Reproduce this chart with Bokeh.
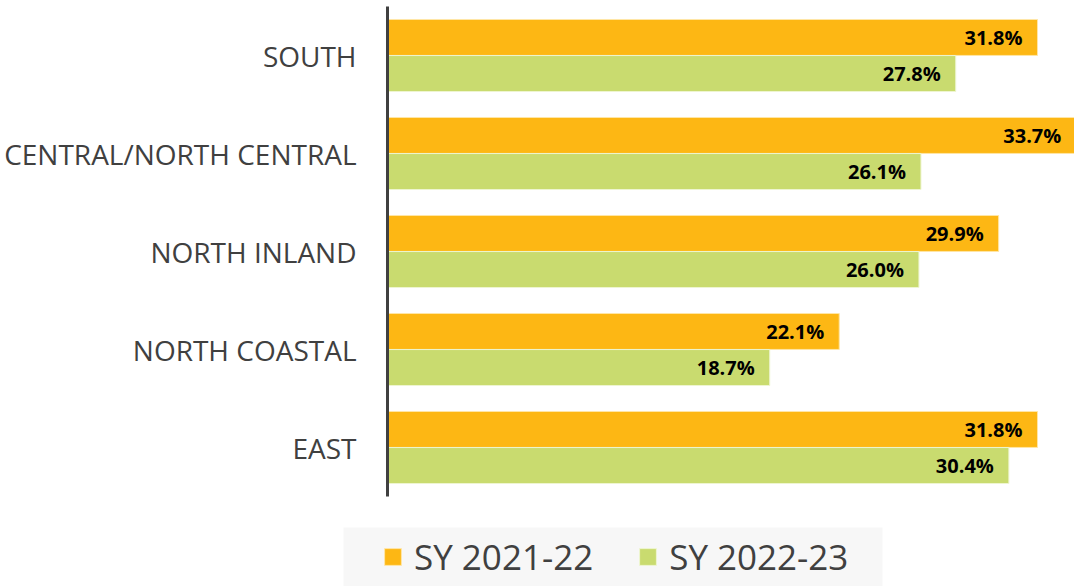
from bokeh.plotting import figure
from bokeh.models import ColumnDataSource, Legend, LegendItem, BoxAnnotation, Range1d
from bokeh.core.properties import value
from bokeh.embed import file_html
from bokeh.resources import INLINE

categories = ["SOUTH", "CENTRAL/NORTH CENTRAL", "NORTH INLAND", "NORTH COASTAL", "EAST"]
series_names = ["SY 2021-22", "SY 2022-23"]
sy_2021_22 = [31.8, 33.7, 29.9, 22.1, 31.8]
sy_2022_23 = [27.8, 26.1, 26.0, 18.7, 30.4]

colors = ["#FDB714", "#C9DB6F"]
TEXT = "#404040"

idx = list(range(len(categories)))
off = 0.184
h = 0.367

src = ColumnDataSource(dict(
    cat=categories,
    pos=idx,
    ya=[i - off for i in idx],
    yb=[i + off for i in idx],
    a=sy_2021_22,
    b=sy_2022_23,
    a_lbl=[f"{v:.1f}%" for v in sy_2021_22],
    b_lbl=[f"{v:.1f}%" for v in sy_2022_23],
    zero=[0] * len(categories),
))

px_per_unit = 20.44   # horizontal scale
row_px = 98.0         # pixels per category row
W, H = 1074, 586
x0_px = 387
row0_px = 55

p = figure(width=W, height=H, output_backend="svg", toolbar_location=None,
           x_range=Range1d(-x0_px / px_per_unit, (W - x0_px) / px_per_unit),
           y_range=Range1d((H - row0_px) / row_px, -row0_px / row_px),
           min_border=0, min_border_left=0, min_border_right=0, min_border_top=0, min_border_bottom=0)
p.xaxis.visible = False
p.yaxis.visible = False
p.grid.visible = False
p.outline_line_color = None

r1 = p.hbar(y="ya", right="a", left="zero", height=h, source=src,
            fill_color=colors[0], line_color="#FFE6A6", line_width=1)
r2 = p.hbar(y="yb", right="b", left="zero", height=h, source=src,
            fill_color=colors[1], line_color="#EEF5D0", line_width=1)

# axis line
p.segment(x0=0, y0=-0.5, x1=0, y1=len(categories) - 0.5, line_color=TEXT, line_width=3)

# category labels
p.text(x="zero", y="pos", text="cat", source=src, text_align="right", text_baseline="middle",
       x_offset=-31, text_font=value("Open Sans"), text_font_size="28px", text_color=TEXT)

# value labels
p.text(x="a", y="ya", text="a_lbl", source=src,
       text_align="right", text_baseline="middle", x_offset=-15,
       text_font=value("Open Sans"), text_font_size="20px", text_font_style="bold", text_color="#000000")
p.text(x="b", y="yb", text="b_lbl", source=src,
       text_align="right", text_baseline="middle", x_offset=-15,
       text_font=value("Open Sans"), text_font_size="20px", text_font_style="bold", text_color="#000000")

# legend background panel (screen units; y measured from the bottom)
box = BoxAnnotation(left=343, right=882, top=H - 527, bottom=-4,
                    left_units="screen", right_units="screen", top_units="screen", bottom_units="screen",
                    fill_color="#F7F7F7", fill_alpha=1, line_color=None, level="underlay")
p.add_layout(box)

legend = Legend(items=[LegendItem(label=series_names[0], renderers=[r1]),
                       LegendItem(label=series_names[1], renderers=[r2])],
                orientation="horizontal", location=(382, 6),
                label_text_font="Open Sans", label_text_font_size="35px", label_text_color=TEXT,
                glyph_width=21, glyph_height=21, label_standoff=11, spacing=44,
                padding=8, margin=0, border_line_color=None, background_fill_alpha=0)
p.add_layout(legend, "center")

open("out.html", "w").write(file_html(p, INLINE))
